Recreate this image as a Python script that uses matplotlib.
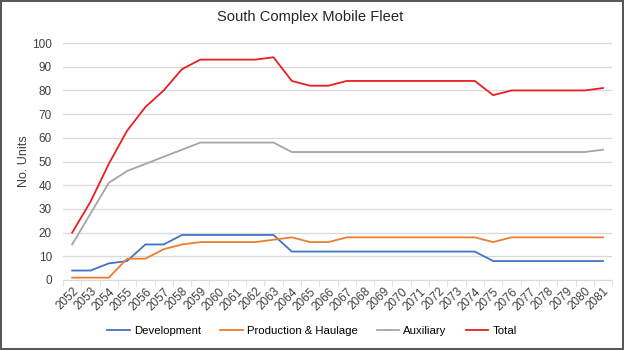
import matplotlib
matplotlib.use("Agg")
import matplotlib.pyplot as plt
import numpy as np

plt.rcParams['font.family'] = ['Liberation Sans', 'DejaVu Sans']

years = [str(y) for y in range(2052, 2082)]
development = [4, 4, 7, 8, 15, 15, 19, 19, 19, 19, 19, 19, 12, 12, 12, 12, 12, 12, 12,
               12, 12, 12, 12, 8, 8, 8, 8, 8, 8, 8]
production = [1, 1, 1, 9, 9, 13, 15, 16, 16, 16, 16, 17, 18, 16, 16, 18, 18, 18, 18,
              18, 18, 18, 18, 16, 18, 18, 18, 18, 18, 18]
auxiliary = [15, 28, 41, 46, 49, 52, 55, 58, 58, 58, 58, 58, 54, 54, 54, 54, 54, 54, 54,
             54, 54, 54, 54, 54, 54, 54, 54, 54, 54, 55]
total = [20, 33, 49, 63, 73, 80, 89, 93, 93, 93, 93, 94, 84, 82, 82, 84, 84, 84, 84,
         84, 84, 84, 84, 78, 80, 80, 80, 80, 80, 81]

fig = plt.figure(figsize=(6.24, 3.5), dpi=100)
fig.patch.set_edgecolor('#595959')
fig.patch.set_linewidth(1.5)
ax = fig.add_axes([0.101, 0.2, 0.88, 0.677])

x = np.arange(len(years))
ax.plot(x, development, color='#4472C4', lw=1.3, label='Development')
ax.plot(x, production, color='#ED7D31', lw=1.3, label='Production & Haulage')
ax.plot(x, auxiliary, color='#A5A5A5', lw=1.3, label='Auxiliary')
ax.plot(x, total, color='#E8201E', lw=1.3, label='Total')

ax.set_xlim(-0.5, len(years) - 0.5)
ax.set_ylim(0, 100)
ax.set_yticks(range(0, 101, 10))
ax.set_xticks(x)
ax.set_xticklabels(years, rotation=45, ha='right', rotation_mode='anchor', fontsize=8.5, color='#404040')
ax.set_xticks(np.arange(-0.5, len(years)), minor=True)
ax.tick_params(axis='x', which='minor', length=4, color='#D9D9D9')
ax.tick_params(axis='y', labelsize=8.5, colors='#404040', length=0, pad=8)
ax.tick_params(axis='x', which='major', length=0, pad=4)
ax.grid(axis='y', color='#D9D9D9', lw=0.9)
ax.set_axisbelow(True)
for s in ['top', 'right', 'left']:
    ax.spines[s].set_visible(False)
ax.spines['bottom'].set_color('#D9D9D9')

ax.set_ylabel('No. Units', fontsize=9, color='#404040')
ax.yaxis.set_label_coords(-0.06, 0.5)
fig.suptitle('South Complex Mobile Fleet', fontsize=10.6, color='#262626', x=0.497, y=0.97)

fig.legend(loc='lower center', ncol=4, frameon=False, fontsize=8.2,
           bbox_to_anchor=(0.5, 0.01), handlelength=2.0, handletextpad=0.35,
           columnspacing=1.65)

fig.savefig('out.png', dpi=100)
